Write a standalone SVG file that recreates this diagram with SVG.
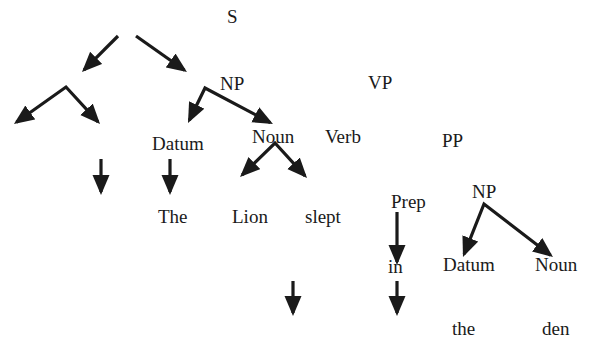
<svg xmlns="http://www.w3.org/2000/svg" width="589" height="338" viewBox="0 0 589 338">
<style>
text{font-family:"Liberation Serif","Times New Roman",serif;font-size:19px;fill:#1a1a1a}
.c{fill:none;stroke:#1a1a1a;stroke-width:3.2;stroke-linejoin:miter;stroke-linecap:butt}
</style>
<defs>
<marker id="ah" markerUnits="userSpaceOnUse" markerWidth="22" markerHeight="18" refX="17" refY="8.5" orient="auto-start-reverse">
<path d="M0,0 L20,8.5 L0,17 z" fill="#1a1a1a"/>
</marker>
</defs>
<rect width="589" height="338" fill="#fff"/>
<g id="connectors">
<path class="c" d="M118,36 L84.1,69.9" marker-end="url(#ah)"/>
<path class="c" d="M136,36 L184.5,70.3" marker-end="url(#ah)"/>
<path class="c" d="M16.4,122.3 L66,87 L98,121.8" marker-start="url(#ah)" marker-end="url(#ah)"/>
<path class="c" d="M189.3,120.3 L205,88 L270.3,122.6" marker-start="url(#ah)" marker-end="url(#ah)"/>
<path class="c" d="M242.2,174.9 L275,143 L305,175.8" marker-start="url(#ah)" marker-end="url(#ah)"/>
<path class="c" d="M101,159 L101,192" marker-end="url(#ah)"/>
<path class="c" d="M170,159 L170,192" marker-end="url(#ah)"/>
<path class="c" d="M293,281 L293,313" marker-end="url(#ah)"/>
<path class="c" d="M397,212 L397,262" marker-end="url(#ah)"/>
<path class="c" d="M397,281 L397,313" marker-end="url(#ah)"/>
<path class="c" d="M464.1,254.2 L484,204 L550.6,255.2" marker-start="url(#ah)" marker-end="url(#ah)"/>
</g>
<g id="n-s"><text x="227" y="23">S</text></g>
<g id="n-np1"><text x="220" y="90">NP</text></g>
<g id="n-vp"><text x="368" y="89">VP</text></g>
<g id="n-datum1"><text x="152" y="150">Datum</text></g>
<g id="n-noun1"><text x="252" y="143">Noun</text></g>
<g id="n-verb"><text x="325" y="143">Verb</text></g>
<g id="n-pp"><text x="442" y="147">PP</text></g>
<g id="n-the1"><text x="158" y="223">The</text></g>
<g id="n-lion"><text x="232" y="223">Lion</text></g>
<g id="n-slept"><text x="305" y="223">slept</text></g>
<g id="n-prep"><text x="391" y="208">Prep</text></g>
<g id="n-np2"><text x="472" y="198">NP</text></g>
<g id="n-in"><text x="388" y="273">in</text></g>
<g id="n-datum2"><text x="443" y="271">Datum</text></g>
<g id="n-noun2"><text x="535" y="271">Noun</text></g>
<g id="n-the2"><text x="452" y="335">the</text></g>
<g id="n-den"><text x="542" y="335">den</text></g>
</svg>
